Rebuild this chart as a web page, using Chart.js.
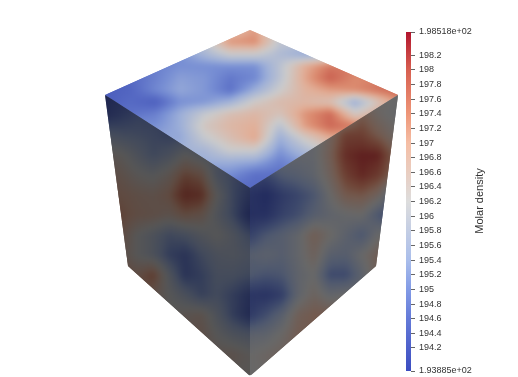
<!DOCTYPE html>
<html>
<head>
<meta charset="utf-8">
<style>
html,body{margin:0;padding:0;background:#fff;}
#wrap{width:518px;height:377px;}
</style>
<script src="https://cdn.jsdelivr.net/npm/chart.js@4"></script>
</head>
<body>
<div id="wrap"><canvas id="chart" width="518" height="377"></canvas></div>
<script>
// colour bar
var barMin = 193.885;
var barMax = 198.518;
var tickValues = [193.885,194.2,194.4,194.6,194.8,195,195.2,195.4,195.6,195.8,196,196.2,196.4,196.6,196.8,197,197.2,197.4,197.6,197.8,198,198.2,198.518];
var tickLabels = ['1.93885e+02','194.2','194.4','194.6','194.8','195','195.2','195.4','195.6','195.8','196','196.2','196.4','196.6','196.8','197','197.2','197.4','197.6','197.8','198','198.2','1.98518e+02'];
var stopValues = [193.885,194.6,195,195.4,196.2,197,197.4,198,198.518];
var stopColors = [[59,76,192],[100,122,216],[130,155,230],[170,190,235],[221,221,221],[245,190,165],[238,150,120],[215,95,80],[178,20,45]];

var topValues = [
[196,196,196,196,196,196.6,197.2,196,196,196,196,196,196],
[196,196,196,196,196,197.3,197.4,196,196,196,196,196,196],
[195,195,195,195,195.6,196.2,196.2,195.7,195.3,195.5,196,196,196],
[194.8,194.8,194.8,195,195,195,195,195.9,197,197.6,197.6,197.6,197.6],
[194.4,194.5,194.8,195.2,195.1,194.7,194.9,195.9,197.1,197.9,197.4,197.5,197.6],
[194.3,194.4,194.9,195.3,195.1,194.6,195.4,196.2,196.9,197.2,197.4,197.7,197.9],
[194.3,194.5,194.3,195,195.1,195.5,196.3,196.7,196.8,196.6,195.4,196.6,197.6],
[194.6,194.6,194.8,195.4,196.1,196.6,196.8,196.5,197.3,197.8,196.4,197,197],
[195,195,195,195.4,196.4,196.8,197,195.9,197.2,197.8,197.6,197,197],
[195.3,195.3,195.3,195.3,196.1,196.6,197.1,195.4,196.3,197,197,197,197],
[195.5,195.5,195.5,195.5,195.6,196.2,196.2,195.1,195.7,196.4,196.4,196.4,196.4],
[195.4,195.4,195.4,195.4,195.4,195.4,195.3,194.8,195.2,195.5,195.5,195.5,195.5],
[195,195,195,195,195,195,194.6,194.6,194.9,195,195,195,195],
[194.6,194.6,194.6,194.6,194.6,194.6,194.5,194.5,194.5,194.5,194.5,194.5,194.5],
[194.5,194.5,194.5,194.5,194.5,194.5,194.5,194.5,194.5,194.5,194.5,194.5,194.5]
];
var leftValues = [
[194.2,194.4,194.6,194.8,195,195,195,195,195,195,195],
[194.4,194.7,195,195,195,195,195,195,195,195,195],
[195.6,195.4,195.3,195.2,195,195,195,195,195,195,195],
[196.5,196.3,195.8,195.3,195.6,196.2,195.8,195.6,195.4,195.2,195.2],
[197,196.7,196.3,196.1,196.5,197.3,197,195.6,195.2,194.9,194.9],
[197,197,196.8,196.7,197,198,197.8,196.2,195.2,194.6,194.6],
[197.2,197.2,196.9,196.8,196.6,197,196.8,195.9,195.2,194.2,194.2],
[197,197,196.2,195.8,195.3,195.5,195.9,196.2,195.8,195.2,195.2],
[196.8,196.8,196.2,195.8,195,194.7,195.3,195.7,195.8,195.6,195.6],
[197.2,197.2,196.9,197.4,195.9,194.7,195,195.5,195.5,195.3,195.3],
[197,197,197,196.8,196.2,195.7,195.1,195.4,195,194.5,194.5],
[196.5,196.5,196.5,196.5,196.3,196.5,196.6,195.8,195,194.4,194.4],
[196.6,196.6,196.6,196.6,196.6,196.6,196.8,196.2,195.8,195.6,195.6],
[196.6,196.6,196.6,196.6,196.6,196.6,196.6,196.6,196.6,196.3,196.3],
[196.3,196.3,196.3,196.3,196.3,196.3,196.3,196.3,196.3,196.3,196.3]
];
var rightValues = [
[196,196,196,196,196,196,196,196.2,196.2,196.2,196.2],
[196,196,196,196,196,196,196,197,196.4,196.1,196.1],
[196,196,196,196,196,196.6,197.6,197.6,197,196.4,196.4],
[196,196,196,196,196,196.8,198,198.2,198.2,197,197],
[194.9,194.9,195.4,195.6,195.9,196.6,197.6,198.1,197.7,196.8,196.8],
[194.4,194.1,194.6,194.9,195.3,196.2,197,197.1,196.6,195.2,195.2],
[194.3,194.3,194.8,195.1,195.6,195.9,196.1,196.2,195.3,194.8,194.8],
[194.8,195.3,195.6,196,196.8,196.3,195.8,195.3,196.2,196.2,196.2],
[195.6,195.8,195.6,196,196.6,195.7,195.6,196.2,196.8,196.8,196.8],
[195.4,195.2,195.3,195.9,196.2,195,195,195.8,196.8,196.8,196.8],
[194.5,194.4,194.7,195.9,196.5,196,196.2,196.2,196.2,196.2,196.2],
[194.6,195.1,195.7,196.7,197,197,197,197,197,197,197],
[195.8,195.9,196.3,196.9,196.9,196.9,196.9,196.9,196.9,196.9,196.9],
[196.2,196.4,196.6,196.6,196.6,196.6,196.6,196.6,196.6,196.6,196.6],
[196.2,196.3,196.3,196.3,196.3,196.3,196.3,196.3,196.3,196.3,196.3]
];

// cube outline and the grid each face was read on
var cubeBack = [250,30], cubeLeft = [105,95], cubeRight = [398,95], cubeFront = [250,188];
var cubeLeftLow = [128,266], cubeRightLow = [376,266], cubeBottom = [250,376];
var topOutline = [cubeBack,cubeRight,cubeFront,cubeLeft];
var leftOutline = [cubeLeft,cubeFront,cubeBottom,cubeLeftLow];
var rightOutline = [cubeFront,cubeRight,cubeRightLow,cubeBottom];

function colorFor(v, shade){
    var i = 0;
    while(i < stopValues.length-2 && v > stopValues[i+1]) i++;
    var t = Math.max(0, Math.min(1, (v-stopValues[i])/(stopValues[i+1]-stopValues[i])));
    var a = stopColors[i], b = stopColors[i+1];
    return 'rgb('+Math.round((a[0]+(b[0]-a[0])*t)*shade)+','+Math.round((a[1]+(b[1]-a[1])*t)*shade)+','+Math.round((a[2]+(b[2]-a[2])*t)*shade)+')';
}

function drawFace(ctx, sx, sy, face){
    var off = document.createElement('canvas');
    off.width = ctx.canvas.width;
    off.height = ctx.canvas.height;
    var oc = off.getContext('2d');
    var rows = face.values.length, cols = face.values[0].length;
    for(var r=0;r<rows-1;r++){
        for(var c=0;c<cols-1;c++){
            var x0 = sx.getPixelForValue(face.x0+c*face.dx), x1 = sx.getPixelForValue(face.x0+(c+1)*face.dx);
            var y0 = sy.getPixelForValue(face.y0+r*face.dy), y1 = sy.getPixelForValue(face.y0+(r+1)*face.dy);
            // gouraud style shading between the four read values
            for(var py=Math.round(y0);py<Math.round(y1);py+=2){
                for(var px=Math.round(x0);px<Math.round(x1);px+=2){
                    var u = (px+1-x0)/(x1-x0), w = (py+1-y0)/(y1-y0);
                    var v = face.values[r][c]*(1-u)*(1-w)+face.values[r][c+1]*u*(1-w)+face.values[r+1][c]*(1-u)*w+face.values[r+1][c+1]*u*w;
                    oc.fillStyle = colorFor(v, face.shade);
                    oc.fillRect(px,py,2,2);
                }
            }
        }
    }
    ctx.save();
    ctx.beginPath();
    face.outline.forEach(function(p,i){
        var px = sx.getPixelForValue(p[0]), py = sy.getPixelForValue(p[1]);
        if(i==0) ctx.moveTo(px,py); else ctx.lineTo(px,py);
    });
    ctx.closePath();
    ctx.clip();
    ctx.drawImage(off,0,0);
    ctx.filter = 'blur(2.5px)';
    ctx.drawImage(off,0,0);
    ctx.restore();
}

var cubePlugin = {
    id: 'cube',
    beforeDatasetsDraw: function(chart){
        var ctx = chart.ctx, sx = chart.scales.x, sy = chart.scales.cubeY, bar = chart.scales.bar;
        chart.options.plugins.cube.faces.forEach(function(face){
            drawFace(ctx, sx, sy, face);
        });
        // colour bar through its own axis
        var right = chart.chartArea.right, top = bar.getPixelForValue(barMax), bottom = bar.getPixelForValue(barMin);
        for(var py=Math.floor(top);py<bottom;py++){
            ctx.fillStyle = colorFor(bar.getValueForPixel(py+0.5), 1);
            ctx.fillRect(right-5,py,5,1);
        }
        // axis title runs bottom to top
        ctx.save();
        ctx.translate(480,201);
        ctx.rotate(-Math.PI/2);
        ctx.fillStyle = '#333';
        ctx.font = '11px "Liberation Sans"';
        ctx.textAlign = 'center';
        ctx.textBaseline = 'middle';
        ctx.fillText('Molar density',0,0);
        ctx.restore();
    }
};

new Chart(document.getElementById('chart'), {
    type: 'scatter',
    data: { datasets: [] },
    plugins: [cubePlugin],
    options: {
        responsive: false,
        animation: false,
        layout: { padding: { left: 0, right: 0, top: 32, bottom: 6 } },
        plugins: {
            legend: { display: false },
            tooltip: { enabled: false },
            cube: {
                faces: [
                    { values: topValues, outline: topOutline, x0: 105, dx: 25, y0: 30, dy: 12, shade: 0.92 },
                    { values: leftValues, outline: leftOutline, x0: 105, dx: 16, y0: 95, dy: 20, shade: 0.39 },
                    { values: rightValues, outline: rightOutline, x0: 250, dx: 16, y0: 95, dy: 20, shade: 0.47 }
                ]
            }
        },
        scales: {
            x: { type: 'linear', display: false, min: 0, max: 411 },
            cubeY: { type: 'linear', display: false, position: 'left', reverse: true, min: 32, max: 371 },
            bar: {
                type: 'linear',
                position: 'right',
                min: barMin,
                max: barMax,
                afterBuildTicks: function(scale){
                    scale.ticks = tickValues.map(function(v){ return { value: v }; });
                },
                afterFit: function(scale){
                    scale.width = 107;
                    scale.paddingTop = 0;
                    scale.paddingBottom = 0;
                },
                grid: { drawOnChartArea: false, drawTicks: true, tickLength: 4, tickColor: '#666', tickWidth: 1 },
                border: { display: false },
                ticks: {
                    padding: 4,
                    autoSkip: false,
                    maxRotation: 0,
                    color: '#333',
                    font: { family: '"Liberation Sans"', size: 9 },
                    callback: function(value, index){ return tickLabels[index]; }
                }
            }
        }
    }
});
</script>
</body>
</html>
